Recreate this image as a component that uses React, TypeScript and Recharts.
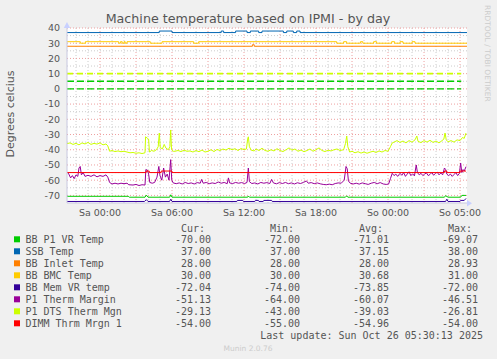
import { Line, LineChart, ReferenceArea, ReferenceLine, XAxis, YAxis } from "recharts";

// time axis: hours since Sa 00:00 (elapsed, DST change puts "So 05:00" at 30h)
const T_START = -2.75;
const T_END = 30.58;
const HOUR_TICKS = [0, 6, 12, 18, 24, 30];
const HOUR_LABELS = ["Sa 00:00", "Sa 06:00", "Sa 12:00", "Sa 18:00", "So 00:00", "So 05:00"];
const TEMP_TICKS = [40, 30, 20, 10, 0, -10, -20, -30, -40, -50, -60, -70];

// [hour, value]
const bbP1VrTemp = [
	[-2.75, -70.6], [2.35, -70.6], [2.45, -71.2], [3.75, -71.2], [3.86, -69.8], [4.0, -71.2],
	[5.8, -71.2], [5.9, -69.6], [6.0, -71.2], [12.3, -71.2], [12.36, -70.4], [12.45, -71.2],
	[20.45, -71.2], [20.56, -70.3], [20.65, -71.2], [28.7, -71.2], [28.8, -70.2], [29.0, -71.2],
	[30.05, -71.2], [30.15, -70], [30.5, -70],
];
const ssbTemp = [
	[-2.75, 37], [4.94, 38], [6.0, 37], [10.1, 38], [10.3, 37], [11.3, 38], [12.25, 37], [12.53, 38],
	[13.22, 37], [13.5, 38], [15.28, 37], [15.56, 38], [16.11, 37], [16.39, 38], [16.67, 37], [30.58, 37],
];
const bbInletTemp = [[-2.75, 28], [12.7, 29], [12.85, 28], [30.58, 28]];
const bbBmcTemp = [
	[-2.75, 31], [-1.64, 30], [-1.22, 31], [1.56, 30], [1.7, 31], [1.85, 30], [2.0, 31], [2.1, 30],
	[2.25, 31], [4.19, 30], [5.17, 31], [7.81, 30], [8.22, 31], [19.72, 30], [20.3, 31], [20.55, 30],
	[21.7, 31], [21.9, 30], [22.8, 31], [23.05, 30], [24.3, 31], [24.55, 30], [25.0, 31], [25.25, 30],
	[26.0, 31], [26.25, 30], [30.58, 30],
];
const bbMemVrTemp = [
	[-2.75, -74], [3.7, -74], [3.86, -72.8], [4.0, -74], [5.8, -74], [5.9, -72.5], [6.0, -74],
	[11.4, -74], [11.45, -73.3], [11.9, -73.3], [11.95, -74], [12.9, -74], [12.95, -73.3], [13.2, -73.3],
	[13.25, -74], [13.6, -74], [13.65, -73.3], [14.3, -73.3], [14.35, -74], [28.8, -74], [28.9, -72.5],
	[29.0, -74], [30.0, -74], [30.05, -73.3], [30.35, -73.3], [30.5, -72],
];
const p1ThermMargin = [
	[-2.75, -54.5], [-2.6, -56], [-2.45, -58.5], [-2.3, -57], [-2.15, -59], [-2.0, -56.5], [-1.85, -57.5],
	[-1.75, -52], [-1.65, -51], [-1.55, -56.5], [-1.4, -55], [-1.25, -57.5], [-1.0, -56.8], [-0.75, -57.5],
	[-0.5, -56.5], [-0.25, -57.8], [0, -57], [0.25, -57.5], [0.5, -56.5], [0.65, -58], [0.8, -61.5],
	[1.0, -62.5], [1.25, -62], [1.5, -62.5], [1.75, -62], [2.0, -62.3], [2.25, -62], [2.4, -63],
	[2.75, -63.2], [3.0, -62.8], [3.25, -63.5], [3.5, -63], [3.75, -63.2], [3.82, -53], [3.95, -53.5],
	[4.05, -56], [4.15, -61.5], [4.35, -62], [4.55, -61.5], [4.75, -58], [4.9, -51], [5.0, -57],
	[5.15, -60], [5.3, -52], [5.45, -58], [5.6, -56], [5.75, -60], [5.89, -46.5], [5.98, -60],
	[6.1, -61.8], [6.35, -62.3], [6.6, -61.8], [6.85, -62.5], [7.1, -61.5], [7.35, -62.2], [7.6, -61.8],
	[7.85, -62.5], [8.1, -61.6], [8.35, -62], [8.47, -59.5], [8.6, -62], [8.85, -61.5], [9.1, -62.3],
	[9.35, -61.8], [9.6, -62.2], [9.85, -61.2], [10.1, -62], [10.35, -61.5], [10.6, -62.3], [10.7, -58.5],
	[10.8, -61.8], [11.05, -62.2], [11.3, -61.5], [11.55, -62], [11.8, -61.6], [12.05, -62.2],
	[12.25, -61.5], [12.36, -52], [12.45, -61], [12.65, -62.2], [12.9, -61.8], [13.15, -62.5],
	[13.4, -61.5], [13.65, -62], [13.9, -61.6], [14.15, -62.2], [14.3, -59.5], [14.45, -61.8],
	[14.7, -62.4], [14.95, -61.6], [15.2, -62.2], [15.45, -61.5], [15.7, -62.3], [15.95, -61.8],
	[16.2, -62.5], [16.45, -61.7], [16.7, -62.2], [16.95, -61.5], [17.2, -60.5], [17.35, -62],
	[17.6, -61.6], [17.85, -62.3], [18.1, -61.8], [18.35, -62.4], [18.6, -62.8], [18.85, -63],
	[19.1, -62.6], [19.35, -63], [19.6, -62.2], [19.85, -61.8], [20.1, -62], [20.35, -60], [20.5, -51],
	[20.6, -52.5], [20.7, -60.5], [20.85, -62], [21.1, -62.5], [21.35, -62], [21.6, -62.6], [21.85, -61.8],
	[22.1, -62.3], [22.35, -62.8], [22.6, -62], [22.85, -61.5], [23.1, -62.3], [23.35, -61.6],
	[23.6, -62.5], [23.85, -62.8], [24.05, -62.5], [24.2, -59], [24.35, -55.5], [24.5, -57], [24.65, -56],
	[24.8, -57.5], [25.0, -55.5], [25.15, -56.8], [25.3, -55], [25.45, -57.5], [25.6, -56], [25.75, -54.5],
	[25.9, -57], [26.05, -55.8], [26.2, -57.2], [26.35, -50], [26.45, -55], [26.6, -56.5], [26.75, -55.5],
	[26.9, -57], [27.05, -56], [27.2, -55.2], [27.35, -57], [27.5, -56.2], [27.65, -55], [27.8, -56.8],
	[27.95, -55.5], [28.1, -54.8], [28.25, -56.5], [28.4, -55.3], [28.55, -56.5], [28.7, -52], [28.8, -53],
	[28.9, -56], [29.05, -57], [29.2, -56], [29.35, -57.5], [29.5, -56.3], [29.65, -55], [29.8, -57],
	[29.95, -55.5], [30.05, -48.7], [30.15, -55], [30.25, -53], [30.35, -54], [30.5, -51.1],
];
const p1DtsThermMgn = [
	[-2.75, -36], [-2.5, -35.5], [-2.25, -36.5], [-2, -35.8], [-1.75, -36.8], [-1.5, -35.5], [-1.25, -36.2],
	[-1, -35.2], [-0.75, -36.5], [-0.5, -35.8], [-0.25, -36.3], [0, -35.5], [0.25, -36.8], [0.5, -36.2],
	[0.65, -37.5], [0.8, -41], [1.0, -40.5], [1.25, -41.2], [1.5, -40.8], [1.75, -41.3], [2.0, -41],
	[2.25, -41.5], [2.5, -42], [2.75, -41.8], [3.0, -42.3], [3.25, -42], [3.5, -42.5], [3.75, -42],
	[3.8, -31.5], [3.95, -32.5], [4.05, -33], [4.12, -41.5], [4.3, -40.5], [4.5, -41], [4.7, -40],
	[4.85, -38], [4.94, -29], [5.02, -38.5], [5.2, -39.5], [5.35, -36.5], [5.5, -39], [5.7, -40],
	[5.82, -38], [5.89, -27], [5.96, -40], [6.1, -41], [6.25, -41], [6.5, -40.5], [6.75, -41.2], [7, -40.3],
	[7.25, -41], [7.5, -40.8], [7.75, -41.5], [8, -40.5], [8.25, -41.3], [8.5, -40.2], [8.75, -41.5],
	[9, -41], [9.25, -40], [9.5, -41.2], [9.75, -39.8], [10, -40.5], [10.25, -39.5], [10.5, -40.2],
	[10.75, -39], [11, -40], [11.25, -39.3], [11.5, -40.5], [11.75, -39.2], [12, -40], [12.2, -39.5],
	[12.3, -33], [12.36, -31.5], [12.45, -38], [12.6, -40.3], [12.85, -40.8], [13, -39.5], [13.25, -40.5],
	[13.5, -39], [13.75, -40.5], [14, -41], [14.25, -40], [14.5, -40.8], [14.75, -39.3], [15, -40.5],
	[15.25, -41.2], [15.5, -40], [15.75, -38.8], [16, -40.3], [16.25, -39.5], [16.5, -41], [16.75, -40.2],
	[17, -41.3], [17.25, -40.5], [17.5, -39.5], [17.75, -41], [18, -40], [18.25, -38.8], [18.5, -40.5],
	[18.75, -41.2], [19, -40.3], [19.25, -40.8], [19.5, -40], [19.75, -39.5], [20, -40.5], [20.3, -40],
	[20.45, -36], [20.56, -31], [20.65, -38], [20.8, -41.5], [21, -41], [21.25, -42], [21.5, -41.3],
	[21.75, -42.2], [22, -41.5], [22.25, -42.3], [22.5, -41.6], [22.75, -41], [23, -41.8], [23.25, -40.8],
	[23.5, -41.5], [23.75, -40.5], [24, -41], [24.2, -38], [24.35, -35.5], [24.5, -35], [24.75, -34],
	[25, -35.2], [25.25, -34.3], [25.5, -35.5], [25.75, -34], [26, -35], [26.25, -33.5], [26.4, -31],
	[26.5, -34.5], [26.75, -35.3], [27, -34], [27.25, -35], [27.5, -33.8], [27.75, -35.2], [28, -34.3],
	[28.25, -35.5], [28.5, -34], [28.65, -33], [28.75, -29], [28.85, -33.5], [29, -34.8], [29.25, -34],
	[29.5, -35], [29.75, -33.5], [30, -34], [30.2, -32], [30.35, -32.5], [30.5, -29],
];
const dimmThrmMrgn1 = [
	[-2.75, -55], [3.85, -54], [4.1, -55], [5.1, -54], [6.0, -55], [28.7, -54], [28.9, -55], [30.0, -54], [30.5, -54],
];

// warning / critical rules: [value, colour index]
const THRESHOLDS = [[10, 6], [5, 0], [0, 0]];

const NAMES = [
	"BB P1 VR Temp", "SSB Temp", "BB Inlet Temp", "BB BMC Temp",
	"BB Mem VR temp", "P1 Therm Margin", "P1 DTS Therm Mgn", "DIMM Thrm Mrgn 1",
];
const COLORS = ["#00cc00", "#0066b3", "#ff8000", "#ffcc00", "#330099", "#990099", "#ccff00", "#ff0000"];
const CUR = ["-70.00", "37.00", "28.00", "30.00", "-72.04", "-51.13", "-29.13", "-54.00"];
const MIN = ["-72.00", "37.00", "28.00", "30.00", "-74.00", "-64.00", "-43.00", "-55.00"];
const AVG = ["-71.01", "37.15", "28.00", "30.68", "-73.85", "-60.07", "-39.03", "-54.96"];
const MAX = ["-69.07", "38.00", "28.93", "31.00", "-72.00", "-46.51", "-26.81", "-54.00"];

const SERIES_POINTS = [bbP1VrTemp, ssbTemp, bbInletTemp, bbBmcTemp, bbMemVrTemp, p1ThermMargin, p1DtsThermMgn, dimmThrmMrgn1];
const STEP = [false, true, true, true, false, false, false, true];

const toRows = (pts: number[][]) => pts.map(([h, v]) => ({ h, v }));

// grid positions
const minorX: number[] = [];
const majorX: number[] = [];
for (let h = -2; h <= 30; h++) (h % 3 === 0 ? majorX : minorX).push(h);
const minorY = [35, 25, 15, 5, -5, -15, -25, -35, -45, -55, -65];

const SANS = "DejaVu Sans, sans-serif";
const MONO = "DejaVu Sans Mono, monospace";
const TXT = "#555";

export default function App() {
	return (
		<div style={{ position: "absolute", left: 0, top: 0, width: 497, height: 359, background: "#f0f0f0" }}>
			<LineChart width={497} height={359} margin={{ top: 28, right: 30, bottom: 136, left: 0 }}>
				<XAxis
					dataKey="h"
					type="number"
					domain={[T_START, T_END]}
					ticks={HOUR_TICKS}
					interval={0}
					allowDataOverflow
					tickFormatter={(h) => HOUR_LABELS[HOUR_TICKS.indexOf(h)]}
					height={20}
					tickSize={0}
					tickMargin={6}
					axisLine={{ stroke: "#c8c8e0" }}
					tick={{ fontSize: 9.5, fill: TXT, fontFamily: SANS }}
				/>
				<YAxis
					type="number"
					domain={[-75, 40]}
					ticks={TEMP_TICKS}
					interval={0}
					allowDataOverflow
					width={67}
					tickSize={0}
					tickMargin={7}
					axisLine={{ stroke: "#c8c8e0" }}
					tick={{ fontSize: 9.5, fill: TXT, fontFamily: SANS }}
				/>
				<ReferenceArea x1={T_START} x2={T_END} y1={-75} y2={40} fill="#ffffff" fillOpacity={1} stroke="none" />
				{minorY.map((y) => (
					<ReferenceLine key={`my${y}`} y={y} stroke="#cccccc" strokeDasharray="1 2" />
				))}
				{minorX.map((x) => (
					<ReferenceLine key={`mx${x}`} x={x} stroke="#cccccc" strokeDasharray="1 2" />
				))}
				{TEMP_TICKS.map((y) => (
					<ReferenceLine key={`My${y}`} y={y} stroke="#eea0a0" strokeDasharray="1 2" />
				))}
				{majorX.map((x) => (
					<ReferenceLine key={`Mx${x}`} x={x} stroke="#eea0a0" strokeDasharray="1 2" />
				))}
				{THRESHOLDS.map(([v, c]) => (
					<Line
						key={`t${v}`}
						data={[{ h: T_START, t: v }, { h: 30.1, t: v }]}
						dataKey="t"
						name={`rule ${v}`}
						type="linear"
						stroke={COLORS[c]}
						strokeWidth={c === 0 ? 1.3 : 1.8}
						strokeDasharray={c === 0 ? "7 3" : "6 4"}
						dot={false}
						activeDot={false}
						legendType="none"
						isAnimationActive={false}
					/>
				))}
				{SERIES_POINTS.map((pts, i) => (
					<Line
						key={NAMES[i]}
						data={toRows(pts)}
						dataKey="v"
						name={NAMES[i]}
						type={STEP[i] ? "stepAfter" : "linear"}
						stroke={COLORS[i]}
						strokeWidth={1}
						dot={false}
						activeDot={false}
						isAnimationActive={false}
					/>
				))}
			</LineChart>
			<svg
				width={497}
				height={359}
				style={{ position: "absolute", left: 0, top: 0, pointerEvents: "none" }}
			>
				<polygon points="467,200 467,206.5 472,203.2" fill="#c8d0ff" />
				<polygon points="63.8,28 70.2,28 67,22" fill="#c8d0ff" />
				<text x={248} y={22.6} textAnchor="middle" fontSize={12.7} fill={TXT} fontFamily={SANS}>
					Machine temperature based on IPMI - by day
				</text>
				<text
					x={14}
					y={114}
					transform="rotate(-90, 14, 114)"
					textAnchor="middle"
					fontSize={11}
					fill={TXT}
					fontFamily={SANS}
				>
					Degrees celcius
				</text>
				<text
					x={0}
					y={0}
					transform="translate(484.5, 5) rotate(90)"
					fontSize={7.5}
					fill="#cccccc"
					fontFamily={SANS}
				>
					RRDTOOL / TOBI OETIKER
				</text>
				<g fontFamily={MONO} fontSize={10} fill={TXT}>
					<text x={205} y={231.6} textAnchor="end">Cur:</text>
					<text x={294} y={231.6} textAnchor="end">Min:</text>
					<text x={383} y={231.6} textAnchor="end">Avg:</text>
					<text x={472} y={231.6} textAnchor="end">Max:</text>
					{NAMES.map((name, i) => {
						const y = 243.3 + 12 * i;
						return (
							<g key={name}>
								<rect x={14} y={y - 7} width={6} height={6} fill={COLORS[i]} />
								<text x={25.5} y={y}>{name}</text>
								<text x={211} y={y} textAnchor="end">{CUR[i]}</text>
								<text x={300} y={y} textAnchor="end">{MIN[i]}</text>
								<text x={389} y={y} textAnchor="end">{AVG[i]}</text>
								<text x={478} y={y} textAnchor="end">{MAX[i]}</text>
							</g>
						);
					})}
					<text x={483} y={339.2} textAnchor="end">Last update: Sun Oct 26 05:30:13 2025</text>
				</g>
				<text x={248} y={351} textAnchor="middle" fontSize={7.5} fill="#cccccc" fontFamily={SANS}>
					Munin 2.0.76
				</text>
			</svg>
		</div>
	);
}
